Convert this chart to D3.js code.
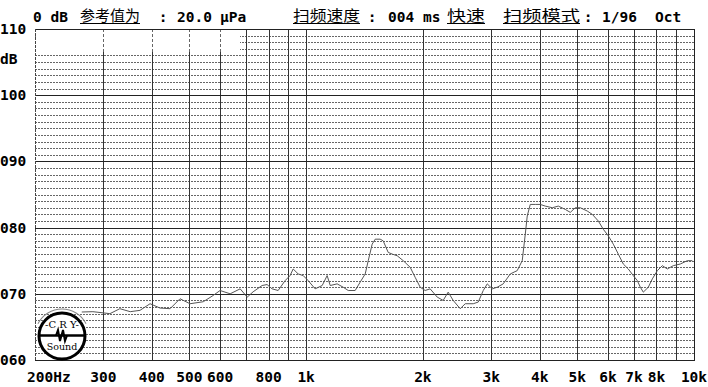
<!DOCTYPE html>
<html><head><meta charset="utf-8">
<script src="https://cdn.jsdelivr.net/npm/d3@7"></script>
<style>body{margin:0;background:#fff}svg{display:block}</style>
</head><body>
<svg id="c" width="708" height="387"></svg>
<script>
// ---- data ----
const freqs = [264,282,312,331,352,373,396,420,446,473,502,543,576,600,637,676,705,730,770,793,817,847,883,909,926,954,983,1012,1055,1100,1133,1154,1202,1246,1284,1338,1378,1420,1446,1480,1507,1552,1580,1628,1667,1717,1780,1855,1910,1968,2027,2088,2178,2256,2324,2394,2496,2572,2697,2778,2862,2931,3019,3110,3222,3360,3501,3607,3673,3716,3783,3898,4014,4136,4312,4468,4656,4798,4943,5092,5307,5468,5666,5837,6013,6194,6380,6572,6770,6974,7141,7271,7401,7625,7809,8044,8287,8535,8844,9219,9609,9900];
const levels = [67.25,67.3,67.0,67.75,67.3,67.5,68.5,67.85,67.75,69.25,68.5,68.8,69.75,70.5,70.0,70.75,69.5,70.3,71.25,71.4,70.75,70.5,72.0,72.75,73.75,73.0,72.75,72.0,70.75,71.25,72.75,71.25,71.5,71.0,70.5,70.5,71.75,73.0,75.0,77.5,78.25,78.25,78.0,76.25,76.0,75.75,75.0,74.0,72.5,71.0,70.5,70.75,69.5,69.0,70.25,69.0,67.75,68.5,68.5,68.75,70.5,71.5,70.75,71.0,71.5,73.0,73.5,75.0,79.0,81.75,83.5,83.5,83.5,83.25,83.0,83.25,82.75,82.3,83.0,83.0,82.5,82.0,81.0,79.75,78.75,77.5,76.0,74.5,73.75,72.75,72.0,71.0,70.25,71.0,72.25,73.5,74.25,73.75,74.25,74.5,75.0,75.0];
const yMajor = [60,70,80,90,100,110];
const xGrid = [300,400,500,600,700,800,900,1000,2000,3000,4000,5000,6000,7000,8000,9000];
const xTickValues = [200,300,400,500,600,800,1000,2000,3000,4000,5000,6000,7000,8000,10000];
const xTickLabels = ["200Hz","300","400","500","600","800","1k","2k","3k","4k","5k","6k","7k","8k","10k"];
const header = [
  {t:"0 dB", x:33, cjk:false},
  {t:"参考值为", x:80, cjk:true, w:60},
  {t:":", x:163, cjk:false, mid:true},
  {t:"20.0", x:177, cjk:false},
  {t:"μPa", x:220, cjk:false},
  {t:"扫频速度", x:293, cjk:true, w:67},
  {t:":", x:372, cjk:false, mid:true},
  {t:"004", x:388, cjk:false},
  {t:"ms", x:423, cjk:false},
  {t:"快速", x:447, cjk:true, w:38},
  {t:"扫频模式", x:503, cjk:true, w:77},
  {t:":", x:588, cjk:false, mid:true},
  {t:"1/96", x:602, cjk:false},
  {t:"Oct", x:655, cjk:false}
];

const svg = d3.select("#c");
const x = d3.scaleLog().domain([200,10000]).range([35,694]);
const y = d3.scaleLinear().domain([60,110]).range([360,29]);
const mono = "'DejaVu Sans Mono', 'Liberation Mono', monospace";
const px = v => Math.round(v) + 0.5;

svg.append("rect").attr("width",708).attr("height",387).attr("fill","#fff");

const g = svg.append("g");
// minor horizontal dotted lines (1 dB)
const minor = d3.range(61,110).filter(d => d % 10 !== 0);
g.selectAll(".minor").data(minor).enter().append("line")
  .attr("x1",35).attr("x2",694)
  .attr("y1",d=>px(y(d))).attr("y2",d=>px(y(d)))
  .attr("stroke","#666").attr("stroke-width",1).attr("stroke-dasharray","2,1")
  .attr("shape-rendering","crispEdges");

// blank area under the header text
g.append("rect").attr("x",36).attr("y",30).attr("width",204).attr("height",22).attr("fill","#fff");

// vertical grid lines
g.selectAll(".vg").data(xGrid).enter().append("line")
  .attr("x1",d=>px(x(d))).attr("x2",d=>px(x(d)))
  .attr("y1",52).attr("y2",360)
  .attr("stroke","#333").attr("stroke-width",1).attr("shape-rendering","crispEdges");
g.selectAll(".vg2").data(xGrid).enter().append("line")
  .attr("x1",d=>px(x(d))).attr("x2",d=>px(x(d)))
  .attr("y1",29).attr("y2",52)
  .attr("stroke",d=>x(d)<240?"#666":"#333").attr("stroke-width",1)
  .attr("stroke-dasharray",d=>x(d)<240?"3,2":null)
  .attr("shape-rendering","crispEdges");

// major horizontal lines
g.selectAll(".major").data(yMajor).enter().append("line")
  .attr("x1",35).attr("x2",694)
  .attr("y1",d=>px(y(d))).attr("y2",d=>px(y(d)))
  .attr("stroke","#222").attr("stroke-width",1).attr("shape-rendering","crispEdges");
// borders
g.append("line").attr("x1",px(x(200))).attr("x2",px(x(200))).attr("y1",29).attr("y2",361)
  .attr("stroke","#444").attr("stroke-dasharray","3,1").attr("shape-rendering","crispEdges");
g.append("line").attr("x1",px(x(10000))).attr("x2",px(x(10000))).attr("y1",29).attr("y2",361)
  .attr("stroke","#222").attr("shape-rendering","crispEdges");

// curve
const pts = freqs.map((f,i)=>[f,levels[i]]);
g.append("path").datum(pts)
  .attr("d", d3.line().x(d=>x(d[0])).y(d=>y(d[1])))
  .attr("fill","none").attr("stroke","#555").attr("stroke-width",1);

// y labels
svg.selectAll(".yl").data(yMajor).enter().append("text")
  .attr("x",0).attr("y",d=>y(d)+5)
  .attr("font-family",mono).attr("font-weight","bold").attr("font-size","14.5px")
  .attr("fill","#000").text(d3.format("03d"));
svg.append("text").attr("x",0).attr("y",63.5)
  .attr("font-family",mono).attr("font-weight","bold").attr("font-size","14.5px")
  .text("dB");

// x labels
svg.selectAll(".xl").data(xTickValues).enter().append("text")
  .attr("x",(d,i)=> i===0 ? x(d)-8 : x(d))
  .attr("y",382)
  .attr("text-anchor",(d,i)=> i===0 ? "start" : "middle")
  .attr("font-family",mono).attr("font-weight","bold").attr("font-size","14.5px")
  .text((d,i)=>xTickLabels[i]);

// header
header.forEach(h=>{
  const t = svg.append("text").attr("x",h.x).attr("y",h.cjk?21:21.5).text(h.t).attr("fill","#000");
  if(h.cjk){
    t.attr("font-family","'Noto Sans CJK SC', sans-serif").attr("font-size","15px")
     .attr("textLength",h.w).attr("lengthAdjust","spacingAndGlyphs");
    svg.append("line").attr("x1",h.x).attr("x2",h.x+h.w).attr("y1",23.5).attr("y2",23.5)
      .attr("stroke","#000").attr("stroke-width",1);
  } else {
    t.attr("font-family",mono).attr("font-weight","bold").attr("font-size","14.5px");
    if(h.mid) t.attr("text-anchor","middle");
  }
});

// logo
const lg = svg.append("g").attr("transform","translate(62,336)");
lg.append("path").attr("d", d3.arc()({innerRadius:26.5,outerRadius:27.5,startAngle:-1.1,endAngle:1.1}))
  .attr("fill","#888");
lg.append("circle").attr("r",23).attr("fill","#fff").attr("stroke","#000").attr("stroke-width",3);
lg.append("text").attr("y",-8).attr("text-anchor","middle")
  .attr("font-family","'DejaVu Serif', serif").attr("font-size","10px").text("-C R Y-");
lg.append("line").attr("x1",-22).attr("x2",22).attr("y1",-0.5).attr("y2",-0.5).attr("stroke","#000").attr("stroke-width",2.5);
lg.append("path").attr("d","M-6,-0.5 L-4,-6 L-2,5 L1,-6 L3,5 L5,-0.5")
  .attr("fill","none").attr("stroke","#000").attr("stroke-width",2);
lg.append("text").attr("y",14).attr("text-anchor","middle")
  .attr("font-family","'DejaVu Serif', serif").attr("font-size","9.5px").text("Sound");
</script>
</body></html>
